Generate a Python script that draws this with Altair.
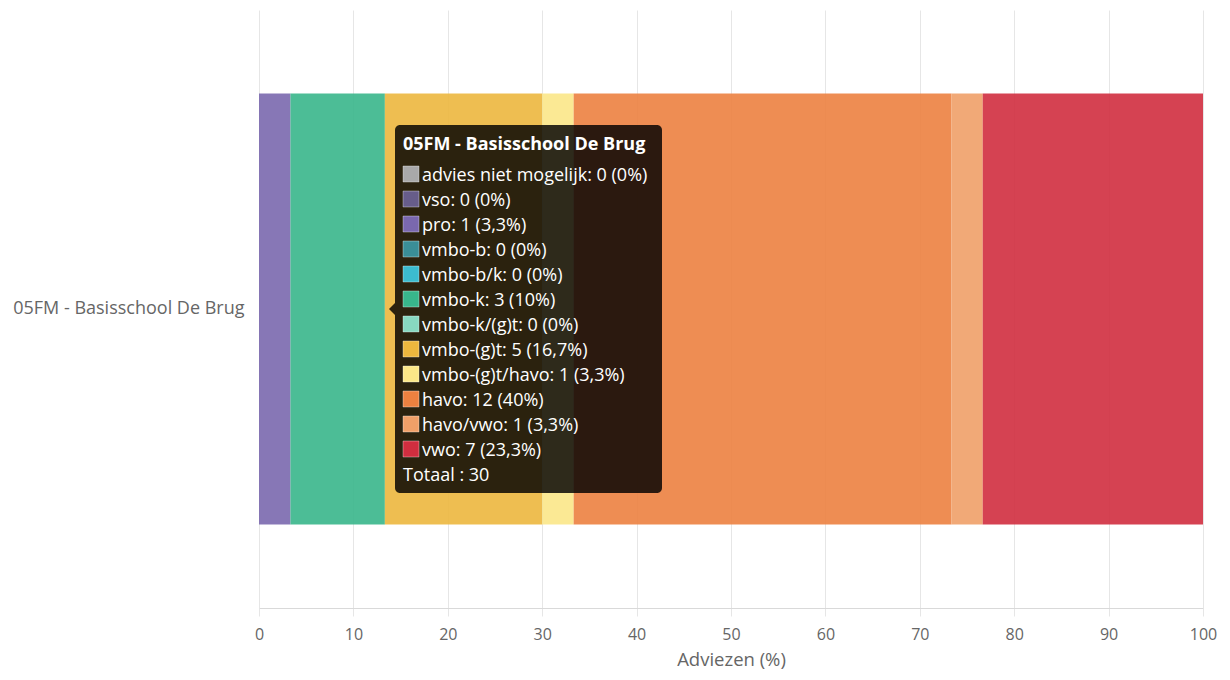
import altair as alt
import pandas as pd

school = "05FM - Basisschool De Brug"
categories = ["advies niet mogelijk", "vso", "pro", "vmbo-b", "vmbo-b/k", "vmbo-k",
              "vmbo-k/(g)t", "vmbo-(g)t", "vmbo-(g)t/havo", "havo", "havo/vwo", "vwo"]
counts = [0, 0, 1, 0, 0, 3, 0, 5, 1, 12, 1, 7]
colors = ["#a9a9a9", "#675d8a", "#7a68ae", "#3a8e97", "#3cbccf", "#38b68b",
          "#88d8c0", "#ecb73e", "#fbe788", "#ec8140", "#f0a068", "#d02e3f"]

total = sum(counts)
FONT = "Open Sans"


def fmt_pct(v):
    s = f"{v:.1f}"
    if s.endswith(".0"):
        s = s[:-2]
    return s.replace(".", ",")


pcts = [c / total * 100 for c in counts]
df = pd.DataFrame({
    "school": [school] * len(categories),
    "category": categories,
    "count": counts,
    "pct": pcts,
    "idx": list(range(len(categories))),
})

tip = pd.DataFrame({
    "category": categories,
    "row": list(range(1, len(categories) + 1)),
    "label": [f"{c}: {n} ({fmt_pct(p)}%)" for c, n, p in zip(categories, counts, pcts)],
})
total_df = pd.DataFrame({"row": [13], "label": [f"Totaal : {total}"]})
title_df = pd.DataFrame({"label": [school]})

color_scale = alt.Scale(domain=categories, range=colors)

bars = alt.Chart(df).mark_bar(opacity=0.9).encode(
    x=alt.X("pct:Q", stack="zero",
            scale=alt.Scale(domain=[0, 100], nice=False),
            axis=alt.Axis(values=list(range(0, 101, 10)), title="Adviezen (%)",
                          grid=True, gridColor="#e6e6e6", domainColor="#d9d9d9",
                          tickColor="#e6e6e6", tickSize=8, labelFontSize=16,
                          labelColor="#666666", titleFontSize=18.5, titleColor="#666666",
                          titleFontWeight="normal", labelPadding=10, titlePadding=8,
                          labelFlush=False, labelFont=FONT, titleFont=FONT)),
    y=alt.Y("school:N", scale=alt.Scale(paddingInner=0.1623, paddingOuter=0.1623),
            axis=alt.Axis(title=None, ticks=False, domain=False, labelFontSize=18,
                          labelColor="#666666", labelPadding=15, labelLimit=0,
                          labelFont=FONT)),
    color=alt.Color("category:N", scale=color_scale, legend=None),
    order=alt.Order("idx:Q"),
)

box = alt.Chart(title_df).mark_rect(color="#000000", opacity=0.82, cornerRadius=5).encode(
    x=alt.value(136), x2=alt.value(403), y=alt.value(115), y2=alt.value(483)
)
arrow = alt.Chart(title_df).mark_point(
    shape="M0,-1L-1,0L0,1Z", filled=True, color="#000000", opacity=0.82, size=144
).encode(x=alt.value(136), y=alt.value(299))

tip_title = alt.Chart(title_df).mark_text(
    align="left", baseline="middle", color="white", fontSize=18, fontWeight="bold",
    font=FONT, dy=2
).encode(x=alt.value(144), y=alt.value(133), text="label:N")

row_scale = alt.Scale(domain=[0, 13], range=[139, 464])

squares = alt.Chart(tip).mark_square(
    size=256, opacity=1, stroke="white", strokeOpacity=0.35, strokeWidth=1
).encode(
    x=alt.value(152),
    y=alt.Y("row:Q", scale=row_scale, axis=None),
    color=alt.Color("category:N", scale=color_scale, legend=None),
)

tip_text = alt.Chart(tip).mark_text(
    align="left", baseline="middle", color="white", fontSize=18, font=FONT, dy=1.5
).encode(
    x=alt.value(163),
    y=alt.Y("row:Q", scale=row_scale, axis=None),
    text="label:N",
)

tot_text = alt.Chart(total_df).mark_text(
    align="left", baseline="middle", color="white", fontSize=18, font=FONT, dy=1.5
).encode(
    x=alt.value(144),
    y=alt.Y("row:Q", scale=row_scale, axis=None),
    text="label:N",
)

chart = alt.layer(bars, box, arrow, tip_title, squares, tip_text, tot_text).resolve_scale(
    y="independent"
).properties(
    width=944, height=598,
    autosize=alt.AutoSizeParams(type="none"),
    padding={"left": 251, "top": 2, "right": 19, "bottom": 62},
).configure_view(stroke=None)

chart.save("out.html", embed_options={"renderer": "svg", "actions": False})
